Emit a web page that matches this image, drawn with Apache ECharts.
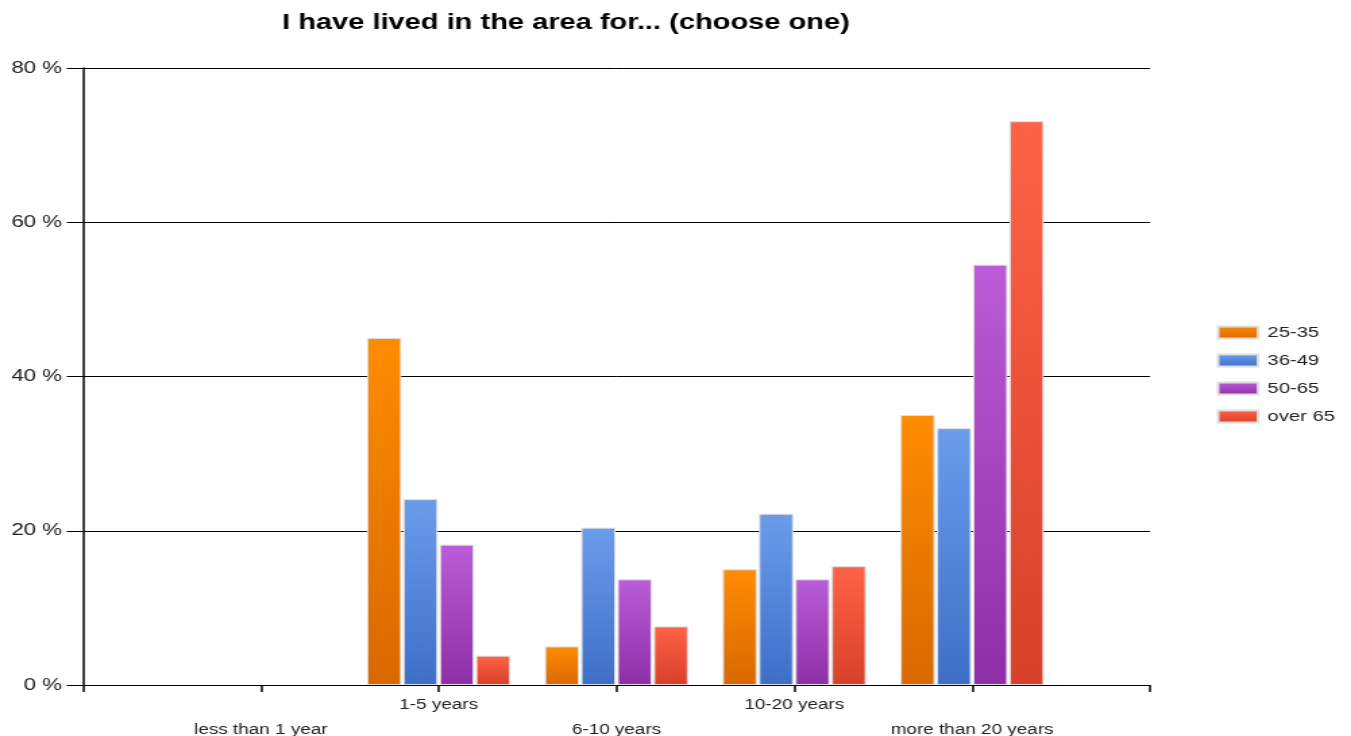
<!DOCTYPE html>
<html>
<head>
<meta charset="utf-8">
<style>
  html, body { margin: 0; padding: 0; background: #fff; overflow: hidden; }
  /* The chart is laid out on a narrower canvas and widened to the page,
     which gives the broad, stretched lettering of the original export. */
  #chart {
    width: 1001px;
    height: 736px;
    transform: scaleX(1.3497);
    transform-origin: 0 0;
  }
</style>
<script src="https://cdn.jsdelivr.net/npm/echarts@6/dist/echarts.min.js"></script>
</head>
<body>
<div id="chart"></div>
<script>
// Residence duration categories; blank entries pad the axis by half a step on each side
const categories = ['', 'less than 1 year', '1-5 years', '6-10 years', '10-20 years', 'more than 20 years', ''];
const seriesNames = ['25-35', '36-49', '50-65', 'over 65'];
// Percent of respondents per age group
const age25to35 = [null, 0, 45.0, 5.0, 15.0, 35.0, null];
const age36to49 = [null, 0, 24.1, 20.4, 22.2, 33.3, null];
const age50to65 = [null, 0, 18.2, 13.7, 13.7, 54.5, null];
const ageOver65 = [null, 0, 3.8, 7.6, 15.4, 73.1, null];
const yTicks = [0, 20, 40, 60, 80];

const gradients = [
  ['#ff8c00', '#d96800'],
  ['#6b9ceb', '#3d6fc8'],
  ['#bb5cd8', '#8d2fa6'],
  ['#ff6347', '#d8402a']
];
const seriesData = [age25to35, age36to49, age50to65, ageOver65];

function grad(c) {
  return new echarts.graphic.LinearGradient(0, 0, 0, 1, [
    { offset: 0, color: c[0] },
    { offset: 1, color: c[1] }
  ]);
}

// Zero-height bars get no outline so they stay invisible on the axis
function prep(arr) {
  return arr.map(function (v) {
    return v === 0 ? { value: 0, itemStyle: { borderWidth: 0 } } : v;
  });
}

const chart = echarts.init(document.getElementById('chart'));
chart.setOption({
  animation: false,
  backgroundColor: '#ffffff',
  textStyle: { fontFamily: 'Liberation Sans, Arial, sans-serif' },
  title: {
    text: 'I have lived in the area for... (choose one)',
    left: 204,
    top: 7,
    textStyle: { fontSize: 21.5, fontWeight: 'bold', color: '#000' }
  },
  legend: {
    orient: 'vertical',
    left: 896.5,
    top: 320,
    itemWidth: 29.6,
    itemHeight: 12,
    itemGap: 13,
    icon: 'rect',
    textStyle: { fontSize: 15, color: '#222', padding: [0, 0, 0, 2] },
    data: seriesNames
  },
  grid: { left: 61.5, right: 149, top: 68, bottom: 51, containLabel: false, outerBoundsMode: 'none' },
  xAxis: {
    type: 'category',
    data: categories,
    boundaryGap: false,
    axisLine: { lineStyle: { color: '#000', width: 1 } },
    axisTick: { show: true, length: 7, interval: 0, lineStyle: { color: '#000', width: 1.5 } },
    axisLabel: {
      interval: 0,
      margin: 7.5,
      fontSize: 14,
      lineHeight: 25,
      color: '#222',
      formatter: function (v, i) {
        if (!v) return '';
        return (i % 2 === 1) ? '\n' + v : v;
      }
    },
    splitLine: { show: false }
  },
  yAxis: {
    type: 'value',
    min: yTicks[0],
    max: yTicks[yTicks.length - 1],
    interval: yTicks[1] - yTicks[0],
    axisLine: { show: true, lineStyle: { color: '#000', width: 1.5 } },
    axisTick: { show: true, length: 12, lineStyle: { color: '#000' } },
    axisLabel: {
      fontSize: 16.5,
      color: '#222',
      margin: 15.5,
      formatter: '{value} %'
    },
    splitLine: { show: true, lineStyle: { color: '#000', width: 1 } }
  },
  series: seriesNames.map(function (name, k) {
    return {
      name: name,
      type: 'bar',
      data: prep(seriesData[k]),
      barWidth: 25.4,
      barGap: '6%',
      itemStyle: {
        color: grad(gradients[k]),
        borderColor: '#dedede',
        borderWidth: 1
      }
    };
  })
});
</script>
</body>
</html>
